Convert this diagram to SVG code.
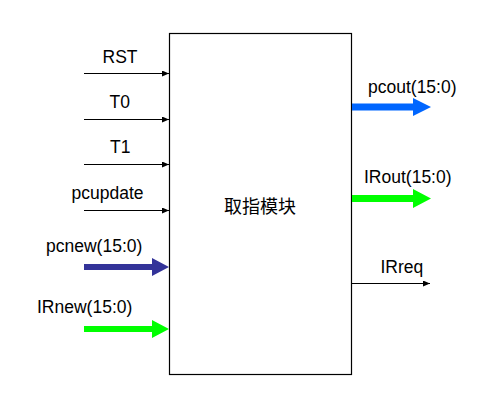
<svg xmlns="http://www.w3.org/2000/svg" width="488" height="413" viewBox="0 0 488 413">
<style>
.lbl{font-family:"Liberation Sans",Arial,sans-serif;font-size:17.5px;fill:#000}
.thin{stroke:#000;stroke-width:1;fill:none}
.cn{font-family:"Noto Sans CJK SC",sans-serif;font-size:18px;fill:#000}
</style>
<defs>
<marker id="ah" markerWidth="7" markerHeight="6" refX="7" refY="3" orient="auto" markerUnits="userSpaceOnUse">
<path d="M0,0 L7,3 L0,6 Z" fill="#000"/>
</marker>
</defs>
<rect width="488" height="413" fill="#fff"/>
<g id="module">
<rect x="169.5" y="33.5" width="182" height="341" fill="#fff" stroke="#000" stroke-width="1.2"/>
<text class="cn" x="260" y="213" text-anchor="middle">取指模块</text>
</g>
<g id="labels">
<text class="lbl" x="102.5" y="63">RST</text>
<text class="lbl" x="109.5" y="108">T0</text>
<text class="lbl" x="110" y="153">T1</text>
<text class="lbl" x="71.5" y="199">pcupdate</text>
<text class="lbl" x="46" y="252">pcnew(15:0)</text>
<text class="lbl" x="37" y="313">IRnew(15:0)</text>
<text class="lbl" x="368" y="93">pcout(15:0)</text>
<text class="lbl" x="364" y="183">IRout(15:0)</text>
<text class="lbl" x="380.5" y="273">IRreq</text>
</g>
<g id="connectors">
<line class="thin" x1="84" y1="73.5" x2="169" y2="73.5" marker-end="url(#ah)"/>
<line class="thin" x1="84" y1="119.5" x2="169" y2="119.5" marker-end="url(#ah)"/>
<line class="thin" x1="84" y1="164.5" x2="169" y2="164.5" marker-end="url(#ah)"/>
<line class="thin" x1="84" y1="210.5" x2="169" y2="210.5" marker-end="url(#ah)"/>
<polygon points="84,264 152,264 152,258 169,267 152,276 152,270 84,270" fill="#333399"/>
<polygon points="84,326 152,326 152,320 169,329 152,338 152,332 84,332" fill="#00FF00"/>
<polygon points="352,103.5 413,103.5 413,98 431,107 413,116 413,110.5 352,110.5" fill="#0066FF"/>
<polygon points="352,195 413,195 413,189 431,198.5 413,208 413,202 352,202" fill="#00FF00"/>
<line class="thin" x1="352" y1="283.5" x2="430" y2="283.5" marker-end="url(#ah)"/>
</g>
</svg>
